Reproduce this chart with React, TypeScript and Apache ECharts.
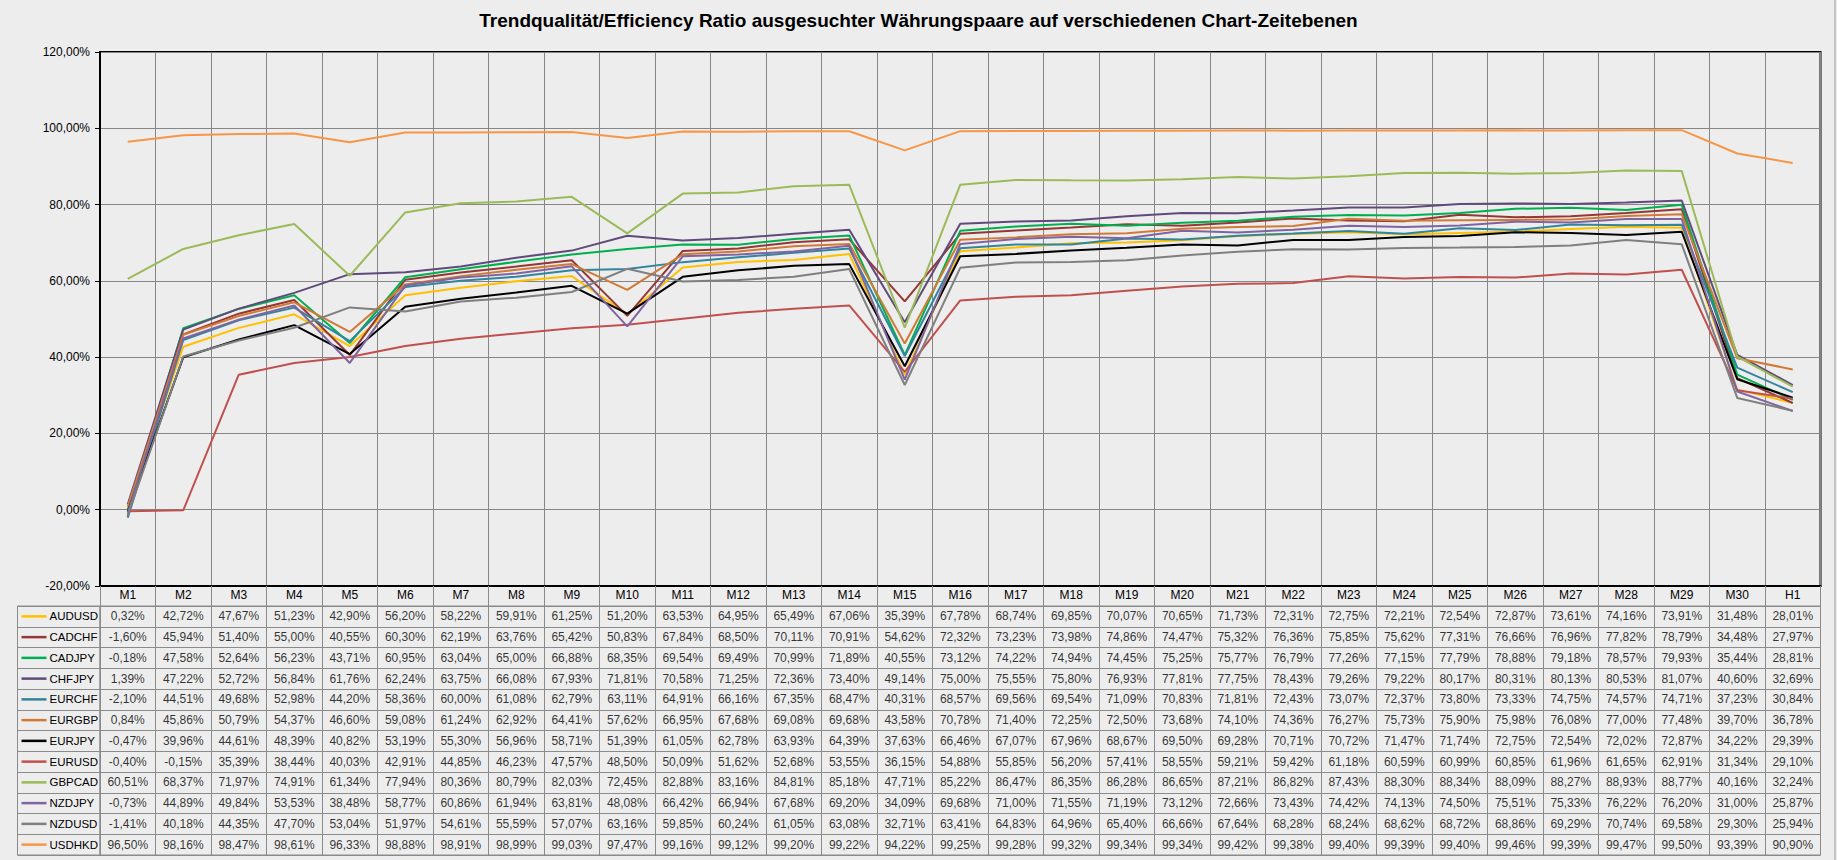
import React, { useEffect, useRef } from "react";
import * as echarts from "echarts";

const categories = [
  "M1", "M2", "M3", "M4", "M5", "M6", "M7", "M8", "M9", "M10",
  "M11", "M12", "M13", "M14", "M15", "M16", "M17", "M18", "M19", "M20",
  "M21", "M22", "M23", "M24", "M25", "M26", "M27", "M28", "M29", "M30", "H1",
];

const AUDUSD = [0.32, 42.72, 47.67, 51.23, 42.90, 56.20, 58.22, 59.91, 61.25, 51.20, 63.53, 64.95, 65.49, 67.06, 35.39, 67.78, 68.74, 69.85, 70.07, 70.65, 71.73, 72.31, 72.75, 72.21, 72.54, 72.87, 73.61, 74.16, 73.91, 31.48, 28.01];
const CADCHF = [-1.60, 45.94, 51.40, 55.00, 40.55, 60.30, 62.19, 63.76, 65.42, 50.83, 67.84, 68.50, 70.11, 70.91, 54.62, 72.32, 73.23, 73.98, 74.86, 74.47, 75.32, 76.36, 75.85, 75.62, 77.31, 76.66, 76.96, 77.82, 78.79, 34.48, 27.97];
const CADJPY = [-0.18, 47.58, 52.64, 56.23, 43.71, 60.95, 63.04, 65.00, 66.88, 68.35, 69.54, 69.49, 70.99, 71.89, 40.55, 73.12, 74.22, 74.94, 74.45, 75.25, 75.77, 76.79, 77.26, 77.15, 77.79, 78.88, 79.18, 78.57, 79.93, 35.44, 28.81];
const CHFJPY = [1.39, 47.22, 52.72, 56.84, 61.76, 62.24, 63.75, 66.08, 67.93, 71.81, 70.58, 71.25, 72.36, 73.40, 49.14, 75.00, 75.55, 75.80, 76.93, 77.81, 77.75, 78.43, 79.26, 79.22, 80.17, 80.31, 80.13, 80.53, 81.07, 40.60, 32.69];
const EURCHF = [-2.10, 44.51, 49.68, 52.98, 44.20, 58.36, 60.00, 61.08, 62.79, 63.11, 64.91, 66.16, 67.35, 68.47, 40.31, 68.57, 69.56, 69.54, 71.09, 70.83, 71.81, 72.43, 73.07, 72.37, 73.80, 73.33, 74.75, 74.57, 74.71, 37.23, 30.84];
const EURGBP = [0.84, 45.86, 50.79, 54.37, 46.60, 59.08, 61.24, 62.92, 64.41, 57.62, 66.95, 67.68, 69.08, 69.68, 43.58, 70.78, 71.40, 72.25, 72.50, 73.68, 74.10, 74.36, 76.27, 75.73, 75.90, 75.98, 76.08, 77.00, 77.48, 39.70, 36.78];
const EURJPY = [-0.47, 39.96, 44.61, 48.39, 40.82, 53.19, 55.30, 56.96, 58.71, 51.39, 61.05, 62.78, 63.93, 64.39, 37.63, 66.46, 67.07, 67.96, 68.67, 69.50, 69.28, 70.71, 70.72, 71.47, 71.74, 72.75, 72.54, 72.02, 72.87, 34.22, 29.39];
const EURUSD = [-0.40, -0.15, 35.39, 38.44, 40.03, 42.91, 44.85, 46.23, 47.57, 48.50, 50.09, 51.62, 52.68, 53.55, 36.15, 54.88, 55.85, 56.20, 57.41, 58.55, 59.21, 59.42, 61.18, 60.59, 60.99, 60.85, 61.96, 61.65, 62.91, 31.34, 29.10];
const GBPCAD = [60.51, 68.37, 71.97, 74.91, 61.34, 77.94, 80.36, 80.79, 82.03, 72.45, 82.88, 83.16, 84.81, 85.18, 47.71, 85.22, 86.47, 86.35, 86.28, 86.65, 87.21, 86.82, 87.43, 88.30, 88.34, 88.09, 88.27, 88.93, 88.77, 40.16, 32.24];
const NZDJPY = [-0.73, 44.89, 49.84, 53.53, 38.48, 58.77, 60.86, 61.94, 63.81, 48.08, 66.42, 66.94, 67.68, 69.20, 34.09, 69.68, 71.00, 71.55, 71.19, 73.12, 72.66, 73.43, 74.42, 74.13, 74.50, 75.51, 75.33, 76.22, 76.20, 31.00, 25.87];
const NZDUSD = [-1.41, 40.18, 44.35, 47.70, 53.04, 51.97, 54.61, 55.59, 57.07, 63.16, 59.85, 60.24, 61.05, 63.08, 32.71, 63.41, 64.83, 64.96, 65.40, 66.66, 67.64, 68.28, 68.24, 68.62, 68.72, 68.86, 69.29, 70.74, 69.58, 29.30, 25.94];
const USDHKD = [96.50, 98.16, 98.47, 98.61, 96.33, 98.88, 98.91, 98.99, 99.03, 97.47, 99.16, 99.12, 99.20, 99.22, 94.22, 99.25, 99.28, 99.32, 99.34, 99.34, 99.42, 99.38, 99.40, 99.39, 99.40, 99.46, 99.39, 99.47, 99.50, 93.39, 90.90];

const seriesNames = ["AUDUSD", "CADCHF", "CADJPY", "CHFJPY", "EURCHF", "EURGBP", "EURJPY", "EURUSD", "GBPCAD", "NZDJPY", "NZDUSD", "USDHKD"];
const seriesValues = [AUDUSD, CADCHF, CADJPY, CHFJPY, EURCHF, EURGBP, EURJPY, EURUSD, GBPCAD, NZDJPY, NZDUSD, USDHKD];
const seriesColors = ["#FFC000", "#953735", "#00B050", "#604A7B", "#31859C", "#D07A35", "#000000", "#C0504D", "#9BBB59", "#8064A2", "#7F7F7F", "#F79646"];

const titleText = "Trendqualität/Efficiency Ratio ausgesuchter Währungspaare auf verschiedenen Chart-Zeitebenen";

const fmt = (v: number) => v.toFixed(2).replace(".", ",") + "%";

const FONT = "'Liberation Sans', Arial, sans-serif";
const GRID_L = 100;
const GRID_R = 16.5;
const TABLE_GRAY = "#8a8a8a";

export default function App() {
  const ref = useRef<HTMLDivElement>(null);

  useEffect(() => {
    if (!ref.current) return;
    const chart = echarts.init(ref.current, null, { renderer: "svg" });

    const rich: Record<string, any> = {
      n: { fontSize: 11.5, fontWeight: "normal", color: "#000", padding: [0, 0, 0, 3], fontFamily: FONT, verticalAlign: "middle" },
    };
    seriesColors.forEach((c, i) => {
      rich["l" + i] = { width: 25, height: 2.5, backgroundColor: c, verticalAlign: "middle" };
    });

    const lineSeries = seriesNames.map((name, i) => ({
      name,
      type: "line",
      xAxisIndex: 0,
      yAxisIndex: 0,
      data: seriesValues[i],
      showSymbol: false,
      symbol: "none",
      lineStyle: { color: seriesColors[i], width: 2 },
      itemStyle: { color: seriesColors[i] },
      silent: true,
      z: 3,
    }));

    const cellSeries = seriesNames.map((name, r) => ({
      name: name + "_table",
      type: "scatter",
      xAxisIndex: 1,
      yAxisIndex: 1,
      symbol: "rect",
      symbolSize: 1,
      itemStyle: { color: "rgba(0,0,0,0)" },
      silent: true,
      data: seriesValues[r].map((v, c) => [c, r, v]),
      label: {
        show: true,
        position: "inside",
        formatter: (p: any) => fmt(p.value[2]),
        color: "#000",
        fontSize: 12,
        fontWeight: "normal",
        fontFamily: FONT,
      },
      z: 4,
    }));

    const option: any = {
      animation: false,
      backgroundColor: "#ededed",
      textStyle: { fontFamily: FONT },
      title: {
        text: titleText,
        left: "center",
        top: 11,
        padding: 0,
        textStyle: { fontSize: 19, fontWeight: "bold", color: "#000", fontFamily: FONT },
      },
      grid: [
        { left: GRID_L, right: GRID_R, top: 52, bottom: 274, show: true, borderColor: "#000", borderWidth: 2, backgroundColor: "transparent" },
        { left: GRID_L, right: GRID_R, top: 606, bottom: 5, show: true, borderColor: TABLE_GRAY, borderWidth: 1, backgroundColor: "transparent" },
        { left: 17.5, width: GRID_L - 17.5, top: 606, bottom: 5, show: true, borderColor: TABLE_GRAY, borderWidth: 1, backgroundColor: "transparent" },
      ],
      xAxis: [
        {
          type: "category",
          gridIndex: 0,
          data: categories,
          boundaryGap: true,
          axisLabel: { show: false },
          axisTick: { show: false },
          axisLine: { show: true, onZero: false, lineStyle: { color: "#000", width: 2 } },
          splitLine: { show: true, interval: 0, lineStyle: { color: "#868686", width: 1 } },
        },
        {
          type: "category",
          gridIndex: 1,
          position: "top",
          data: categories,
          boundaryGap: true,
          axisLabel: { show: true, interval: 0, margin: 5, fontSize: 12, color: "#000", fontFamily: FONT },
          axisTick: { show: true, interval: 0, length: 20, alignWithLabel: false, lineStyle: { color: TABLE_GRAY, width: 1 } },
          axisLine: { show: true, lineStyle: { color: TABLE_GRAY, width: 1 } },
          splitLine: { show: true, interval: 0, lineStyle: { color: TABLE_GRAY, width: 1 } },
        },
        {
          type: "value",
          gridIndex: 2,
          show: false,
          min: 0,
          max: 1,
          splitLine: { show: false },
        },
      ],
      yAxis: [
        {
          type: "value",
          gridIndex: 0,
          min: -20,
          max: 120,
          interval: 20,
          axisLabel: { formatter: (v: number) => fmt(v), fontSize: 12, color: "#000", margin: 10, fontFamily: FONT },
          axisTick: { show: true, length: 5, lineStyle: { color: "#000", width: 1 } },
          axisLine: { show: true, lineStyle: { color: "#000", width: 2 } },
          splitLine: { show: true, lineStyle: { color: "#868686", width: 1 } },
        },
        {
          type: "category",
          gridIndex: 1,
          data: seriesNames,
          inverse: true,
          boundaryGap: true,
          axisLabel: { show: false },
          axisTick: { show: false },
          axisLine: { show: false },
          splitLine: { show: true, interval: 0, lineStyle: { color: TABLE_GRAY, width: 1 } },
        },
        {
          type: "category",
          gridIndex: 2,
          data: seriesNames,
          inverse: true,
          boundaryGap: true,
          axisLabel: {
            show: true,
            inside: true,
            interval: 0,
            margin: 4,
            fontWeight: "normal",
            formatter: (v: string, i: number) => `{l${i}|}{n|${v}}`,
            rich,
          },
          axisTick: { show: false },
          axisLine: { show: false },
          splitLine: { show: true, interval: 0, lineStyle: { color: TABLE_GRAY, width: 1 } },
        },
      ],
      graphic: [
        {
          type: "line",
          shape: { x1: 1835, y1: 0, x2: 1835, y2: 860 },
          style: { stroke: "#9a9a9a", lineWidth: 1 },
          silent: true,
        },
      ],
      series: [...lineSeries, ...cellSeries],
    };

    chart.setOption(option);
    return () => chart.dispose();
  }, []);

  return (
    <div
      ref={ref}
      style={{ position: "absolute", left: 0, top: 0, width: 1837, height: 860 }}
    />
  );
}
